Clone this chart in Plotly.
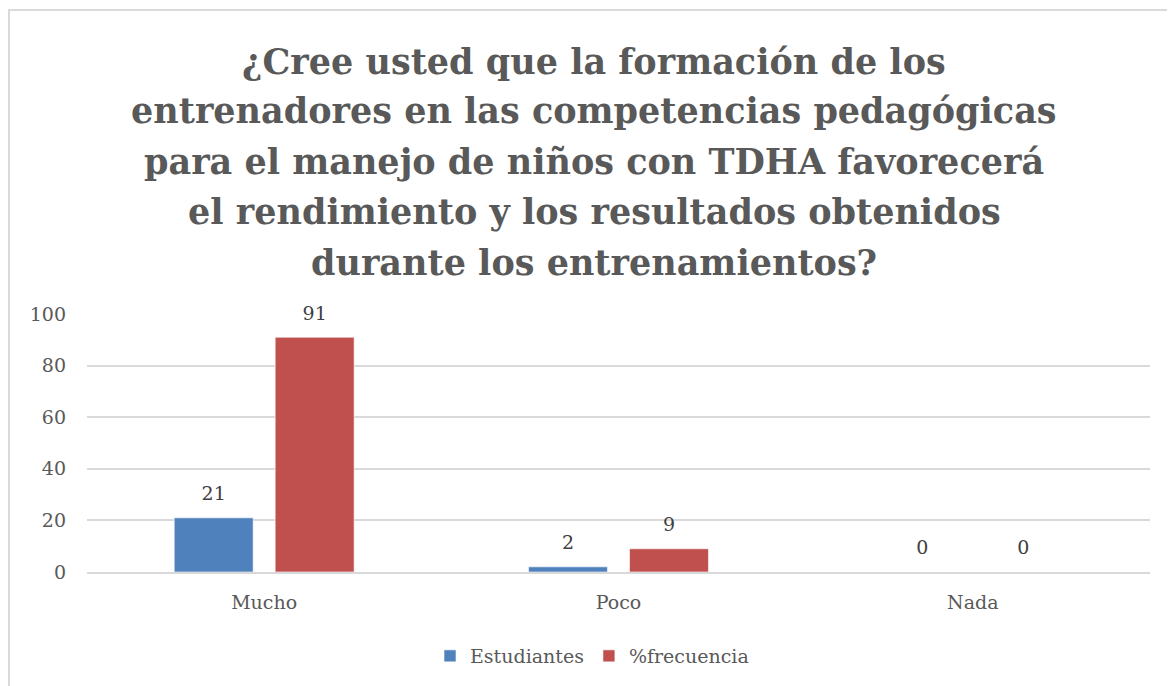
import plotly.graph_objects as go

# Chart data
categorias = ["Mucho", "Poco", "Nada"]
estudiantes = [21, 2, 0]
frecuencia = [91, 9, 0]
y_ticks = [0, 20, 40, 60, 80, 100]

titulo_lineas = [
    "¿Cree usted que la formación de los",
    "entrenadores en las competencias pedagógicas",
    "para el manejo de niños con TDHA favorecerá",
    "el rendimiento y los resultados obtenidos",
    "durante los entrenamientos?",
]

FONT = "DejaVu Serif"
BLUE = "#4F81BD"
RED = "#C0504D"
GRID = "#D9D9D9"
TEXT = "#595959"

# page body has an 8px margin, so the figure is 8px smaller than the window
W, H = 1167, 678
ML, MR, MT, MB = 79, 25, 306, 114
PW, PH = W - ML - MR, H - MT - MB


def px_to_paper_y(fy):
    """Figure pixel row -> paper y."""
    return (H - MB - fy) / PH


series = [("Estudiantes", estudiantes, BLUE), ("%frecuencia", frecuencia, RED)]

fig = go.Figure()
for name, vals, color in series:
    fig.add_trace(go.Bar(
        x=categorias, y=vals, name=name,
        marker=dict(color=color, line=dict(color="rgba(255,255,255,0.6)", width=1)),
        hovertemplate="%{x}: %{y}<extra>" + name + "</extra>",
    ))

# value labels: grouped scatter text sitting a little above each bar
for name, vals, color in series:
    fig.add_trace(go.Scatter(
        x=categorias, y=vals, mode="markers+text", text=vals,
        textposition="top center", cliponaxis=False, showlegend=False,
        marker=dict(size=19, opacity=0), hoverinfo="skip",
        textfont=dict(family=FONT, size=19, color="#404040"),
    ))

# title: one annotation per line so the line spacing matches
title_rows = [53, 103, 153, 203, 254]
annotations = [
    dict(
        text=f"<b>{line}</b>", xref="paper", yref="paper",
        x=(586 - ML) / PW, y=px_to_paper_y(row), xanchor="center", yanchor="middle",
        showarrow=False, font=dict(family=FONT, size=35, color=TEXT),
    )
    for line, row in zip(titulo_lineas, title_rows)
]

fig.update_layout(
    width=W, height=H,
    margin=dict(l=ML, r=MR, t=MT, b=MB),
    paper_bgcolor="white", plot_bgcolor="white",
    font=dict(family=FONT, color=TEXT),
    barmode="group", bargap=0.43, bargroupgap=0.218,
    scattermode="group", scattergap=0.43,
    annotations=annotations,
    legend=dict(
        orientation="h", x=584 / W, xanchor="center", xref="container",
        y=1 - 648 / H, yanchor="middle", yref="container",
        font=dict(family=FONT, size=19, color=TEXT),
        itemclick=False,
    ),
    showlegend=True,
    shapes=[dict(
        type="rect", xref="paper", yref="paper",
        x0=(1 - ML) / PW, x1=1.2, y0=-1.0, y1=px_to_paper_y(2),
        line=dict(color=GRID, width=2), layer="below",
    )],
)
fig.update_yaxes(
    range=[0, 100], tickvals=y_ticks, showgrid=True, gridcolor=GRID, gridwidth=2,
    zeroline=False, showline=False, ticks="", ticklabelstandoff=20,
    tickfont=dict(family=FONT, size=19, color=TEXT),
)
fig.update_xaxes(
    showline=True, linecolor=GRID, linewidth=2, ticks="", ticklabelstandoff=12,
    tickfont=dict(family=FONT, size=19, color=TEXT),
)

fig.write_html("out.html")
